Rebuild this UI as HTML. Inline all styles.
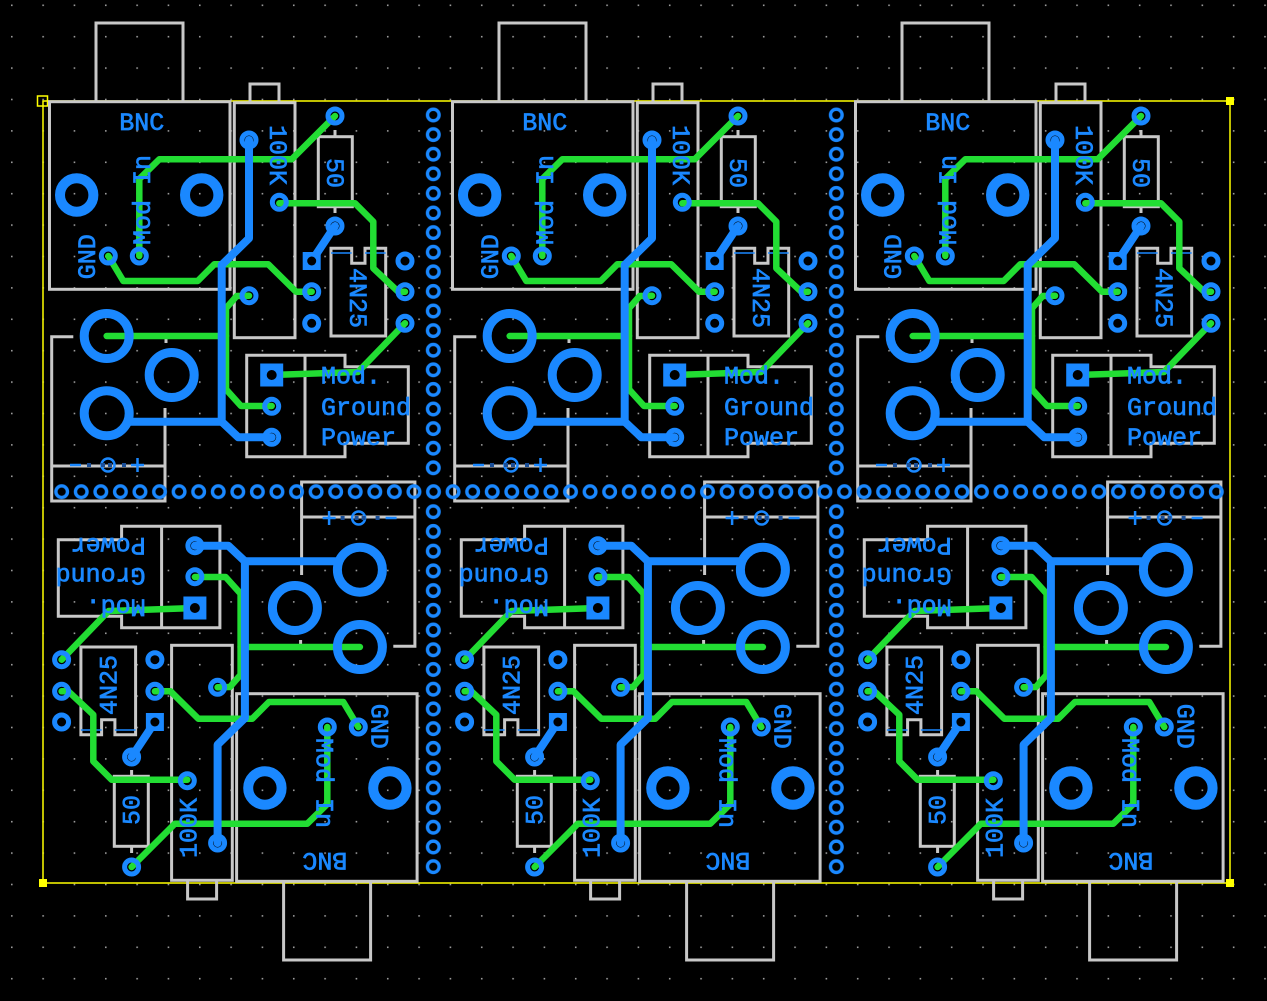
<!DOCTYPE html>
<html><head><meta charset="utf-8"><style>
html,body{margin:0;padding:0;background:#000;}
svg{display:block;}
text{font-family:"Liberation Mono","DejaVu Sans Mono",monospace;fill:#1a88ff;stroke:#1a88ff;stroke-width:0.7;font-size:25px;}
</style></head><body>
<svg width="1267" height="1001" viewBox="0 0 1267 1001" xmlns="http://www.w3.org/2000/svg">
<defs>
<pattern id="grid" patternUnits="userSpaceOnUse" x="11" y="4.5" width="31.33" height="31.4">
<rect x="0" y="0" width="1.6" height="1.6" fill="#9a9a9a"/>
</pattern>
<pattern id="hrow" patternUnits="userSpaceOnUse" x="51.9" y="481.7" width="19.57" height="20">
<circle cx="9.78" cy="10" r="5.8" fill="none" stroke="#1a88ff" stroke-width="3.4"/>
</pattern>
<pattern id="vcolT" patternUnits="userSpaceOnUse" x="423.3" y="105.2" width="20" height="19.6">
<circle cx="10" cy="9.8" r="5.8" fill="none" stroke="#1a88ff" stroke-width="3.4"/>
</pattern>
<pattern id="vcolB" patternUnits="userSpaceOnUse" x="423.3" y="501.85" width="20" height="19.72">
<circle cx="10" cy="9.86" r="5.8" fill="none" stroke="#1a88ff" stroke-width="3.4"/>
</pattern>
<g id="m">
  <g fill="none" stroke="#c8c8c8" stroke-width="3">
    <rect x="49.5" y="101.7" width="180.5" height="187.6"/>
    <polyline points="96,101.7 96,23 183,23 183,101.7"/>
    <rect x="234.3" y="102.7" width="60.7" height="235"/>
    <polyline points="250,102.7 250,84 279,84 279,102.7"/>
    <rect x="318.3" y="136.7" width="34" height="70"/>
    <line x1="335" y1="130" x2="335" y2="136.7"/>
    <line x1="335" y1="206.7" x2="335" y2="213"/>
    <polygon points="331,336 331,248.3 351.7,248.3 351.7,263.3 365,263.3 365,248.3 385.7,248.3 385.7,336"/>
    <polygon points="246.7,355.3 345,355.3 345,366.7 408.3,366.7 408.3,443.3 345,443.3 345,456.7 246.7,456.7"/>
    <line x1="305" y1="355.3" x2="305" y2="456.7"/>
    <polyline points="73.3,336.7 51.7,336.7 51.7,501 165,501 165,408"/>
    <polyline points="143.3,336.7 166,336.7 166,343"/>
    <line x1="51.7" y1="466" x2="165" y2="466"/>
  </g>
  <g stroke="#1a88ff" stroke-width="2.5" fill="none">
    <line x1="70" y1="465" x2="81" y2="465"/>
    <circle cx="108" cy="465" r="6.5"/>
    <line x1="131" y1="465" x2="144" y2="465"/>
    <line x1="137.5" y1="458" x2="137.5" y2="472"/>
  </g>
  <g fill="#1a4f99">
    <rect x="87" y="463" width="4" height="4"/><rect x="101" y="463" width="4" height="4"/>
    <rect x="108" y="463" width="4" height="4"/><rect x="122" y="463" width="4" height="4"/>
  </g>
  <line x1="331" y1="253" x2="351.7" y2="253" stroke="#1a88ff" stroke-width="1.5"/>
  <line x1="365" y1="253" x2="385.7" y2="253" stroke="#1a88ff" stroke-width="1.5"/>
  <g fill="none" stroke="#22dd33" stroke-width="6.5" stroke-linejoin="round" stroke-linecap="round">
    <polyline points="139.3,256 139.3,179 159.3,159.3 291.7,159.3 335,116"/>
    <polyline points="108.3,256 123.3,281 197.7,281 214.3,264.3 268.3,264.3 296,291.7 311.7,291.7"/>
    <polyline points="249,295.7 236.7,296 226,308.3 226,389.3 241,406 271.7,406"/>
    <polyline points="106.7,336 226,336"/>
    <polyline points="279.3,203.3 355,203.3 373.3,221.7 373.3,268.3 398.3,291.7 405,291.7"/>
    <polyline points="405,323.3 358,372 271.7,375"/>
  </g>
  <g fill="none" stroke="#1a88ff" stroke-width="8" stroke-linejoin="round" stroke-linecap="round">
    <polyline points="249,140 249,238.3 221.7,265 221.7,421.7 238.3,437.3 271.7,437.3"/>
    <polyline points="221.7,421.7 128.3,421.7"/>
    <polyline points="335,226 311.7,261"/>
  </g>
  <g fill="none" stroke="#1a88ff">
    <circle cx="76.7" cy="195" r="16.7" stroke-width="10"/>
    <circle cx="201.7" cy="195" r="16.7" stroke-width="10"/>
    <circle cx="106.7" cy="336" r="22.5" stroke-width="9"/>
    <circle cx="171.7" cy="375" r="22.5" stroke-width="9"/>
    <circle cx="106.7" cy="413.3" r="22.5" stroke-width="9"/>
    <g stroke-width="5">
      <circle cx="108.3" cy="256" r="7"/><circle cx="139.3" cy="256" r="7"/>
      <circle cx="249" cy="140" r="7"/><circle cx="279.3" cy="202.3" r="7"/><circle cx="249" cy="295.7" r="7"/>
      <circle cx="335" cy="116" r="7"/><circle cx="335" cy="226" r="7"/>
      <circle cx="311.7" cy="291.7" r="7"/><circle cx="311.7" cy="323.3" r="7"/>
      <circle cx="405" cy="261" r="7"/><circle cx="405" cy="291.7" r="7"/><circle cx="405" cy="323.3" r="7"/>
      <circle cx="271.7" cy="406.3" r="7"/><circle cx="271.7" cy="437.3" r="7"/>
    </g>
  </g>
  <rect x="302.7" y="252" width="18" height="18" fill="#1a88ff"/>
  <circle cx="311.7" cy="261" r="4.5" fill="#000"/>
  <rect x="260.2" y="363.5" width="23" height="23" fill="#1a88ff"/>
  <circle cx="271.7" cy="375" r="5" fill="#000"/>
  <text x="141.7" y="130" text-anchor="middle">BNC</text>
  <text transform="translate(95,256.7) rotate(-90)" text-anchor="middle">GND</text>
  <text transform="translate(150,200) rotate(-90)" text-anchor="middle">Mod In</text>
  <text transform="translate(270,155) rotate(90)" text-anchor="middle">100K</text>
  <text transform="translate(327,173) rotate(90)" text-anchor="middle">50</text>
  <text transform="translate(350,298) rotate(90)" text-anchor="middle">4N25</text>
  <text x="321" y="383.3">Mod.</text>
  <text x="321" y="415">Ground</text>
  <text x="321" y="445">Power</text>
</g>
</defs>
<rect width="1267" height="1001" fill="#000"/>
<rect width="1267" height="1001" fill="url(#grid)"/>
<rect x="43" y="101" width="1187" height="782" fill="none" stroke="#ffff00" stroke-width="1.5"/>
<rect x="37.5" y="96" width="10" height="10" fill="none" stroke="#ffff00" stroke-width="1.5"/>
<rect x="1226" y="97" width="8" height="8" fill="#ffff00"/>
<rect x="39" y="879" width="8" height="8" fill="#ffff00"/>
<rect x="1226" y="879" width="8" height="8" fill="#ffff00"/>
<use href="#m"/>
<use href="#m" transform="translate(403,0)"/>
<use href="#m" transform="translate(806,0)"/>
<use href="#m" transform="rotate(180,233.3,491.5)"/>
<use href="#m" transform="translate(403,0) rotate(180,233.3,491.5)"/>
<use href="#m" transform="translate(806,0) rotate(180,233.3,491.5)"/>
<rect x="51.9" y="481.7" width="1174.2" height="20" fill="url(#hrow)"/>
<rect x="423.3" y="105.2" width="20" height="372.4" fill="url(#vcolT)"/>
<rect x="423.3" y="501.85" width="20" height="374.7" fill="url(#vcolB)"/>
<g transform="translate(403,0)">
<rect x="423.3" y="105.2" width="20" height="372.4" fill="url(#vcolT)"/>
<rect x="423.3" y="501.85" width="20" height="374.7" fill="url(#vcolB)"/>
</g>
</svg>
</body></html>
